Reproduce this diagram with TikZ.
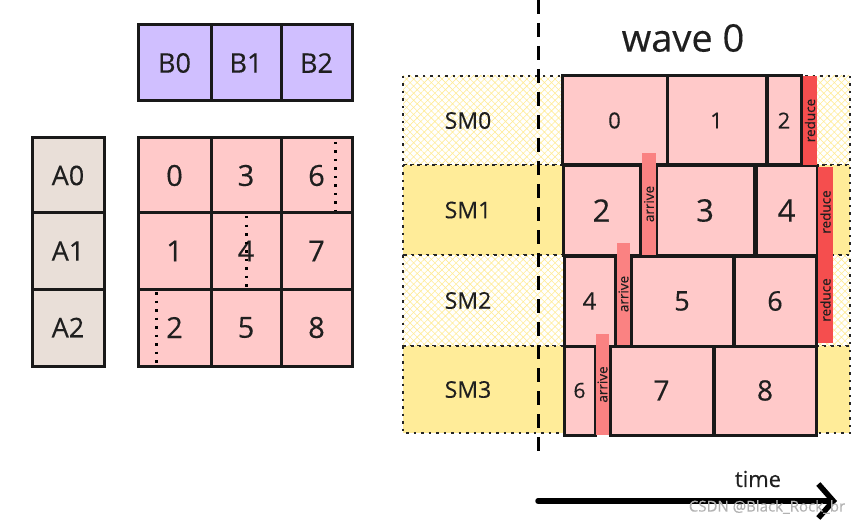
\documentclass[tikz,border=0pt]{standalone}
\usepackage{fontspec}
\setmainfont{Open Sans}[FakeBold=0.35]
\usetikzlibrary{arrows.meta, patterns.meta, positioning}
\definecolor{blockpurple}{HTML}{D0BFFF}
\definecolor{blockbeige}{HTML}{E9DFD8}
\definecolor{tilepink}{HTML}{FFC9C9}
\definecolor{smyellow}{HTML}{FFEC99}
\definecolor{reducered}{HTML}{F54E4E}
\definecolor{arrivered}{HTML}{FA8282}
\newcommand{\fsz}[1]{\fontsize{#1}{#1}\selectfont}

\begin{document}
\begin{tikzpicture}[
    x=1pt, y=-1pt,
    every node/.style={inner sep=0pt, text=black!88},
    tile/.style={draw=black!90, line width=3pt, fill=tilepink},
    smrow/.style={draw=black!85, line width=2pt, dash pattern=on 2.5pt off 5pt}
]
\useasboundingbox (0,0) rectangle (858,521);

% left: B blocks, A blocks and the 3x3 output grid
\foreach \i/\xa/\xb in {0/138/211, 1/211/281, 2/281/352} {
    \draw[tile, fill=blockpurple] (\xa,25) rectangle (\xb,101) node[pos=.5, font=\fsz{27}] (B\i) {B\i};
}
\foreach \i/\ya/\yb in {0/138/213, 1/213/289, 2/289/366} {
    \draw[tile, fill=blockbeige] (32,\ya) rectangle (104,\yb) node[pos=.5, font=\fsz{27}] (A\i) {A\i};
}
\foreach \c/\xa/\xb in {0/138/211, 1/211/281, 2/281/352} {
    \foreach \r/\ya/\yb in {0/138/213, 1/213/289, 2/289/366} {
        \pgfmathtruncatemacro\k{3*\c+\r}
        \draw[tile] (\xa,\ya) rectangle (\xb,\yb) node[pos=.5, font=\fsz{29}] (C\k) {\k};
    }
}
\foreach \xd/\ya/\yb in {335/142/211, 246/216/287, 156/292/364} {
    \draw[line width=3pt, dash pattern=on 2.5pt off 6pt] (\xd,\ya) -- (\xd,\yb);
}

% right: SM rows
\foreach \i/\ya/\yb in {0/76/165, 1/165/255, 2/255/346, 3/346/433} {
    \ifodd\i
        \fill[smyellow] (403,\ya) rectangle (850,\yb);
    \else
        \fill[white] (403,\ya) rectangle (850,\yb);
        \fill[pattern={Hatch[angle=45, distance=5pt, line width=0.6pt]}, pattern color=smyellow] (403,\ya) rectangle (850,\yb);
    \fi
    \draw[smrow] (403,\ya) rectangle (850,\yb);
    \node[font=\fsz{23}] (SM\i) at (468,{(\ya+\yb)/2}) {SM\i};
}

\coordinate (d0) at (538,0);
\coordinate (d1) at (538,455);
\draw[line width=3pt, dash pattern=on 14pt off 9pt] (d0) -- (d1);

\node[font=\fsz{38}] (wave) at (683,38) {wave 0};

% tiles scheduled on the SMs
\foreach \name/\xa/\ya/\xb/\yb/\txt/\s in {
    t00/562/76/667/165/0/22, t01/667/76/766/165/1/22, t02/767/76/801/165/2/22,
    t10/563/166/640/255/2/31, t11/656/166/754/255/3/31, t12/756/166/817/255/4/31,
    t20/564/256/615/346/4/24, t21/631/256/733/346/5/27, t22/734/256/816/346/6/27,
    t30/564/346/595/435/6/21, t31/610/346/713/435/7/28, t32/714/346/816/435/8/28} {
    \draw[tile] (\xa,\ya) rectangle (\xb,\yb) node[pos=.5, font=\fsz{\s}] (\name) {\txt};
}

% arrive / reduce bars
\foreach \name/\xa/\ya/\xb/\yb/\col/\txt in {
    r0/803/76/817/165/reducered/reduce, a1/642/153/656/255/arrivered/arrive,
    r1/818/167/833/257/reducered/reduce, a2/617/243/630/345/arrivered/arrive,
    r2/818/257/833/343/reducered/reduce, a3/596/334/609/435/arrivered/arrive} {
    \fill[\col] (\xa,\ya) rectangle (\xb,\yb) node[pos=.5, rotate=90, font=\fsz{13.5}] (\name) {\txt};
}

% time axis
\coordinate (t0) at (538,501);
\coordinate (t1) at (837,501);
\draw[line width=5.5pt, line cap=round, -{Straight Barb[length=15pt, width=34pt, line width=5.5pt]}] (t0) -- (t1);
\node[font=\fsz{22}] (time) at (758,479) {time};
\node[font=\fsz{15}, text=black!30] (mark) at (767,507) {CSDN @Black\_Rock\_br};

\end{tikzpicture}
\end{document}
